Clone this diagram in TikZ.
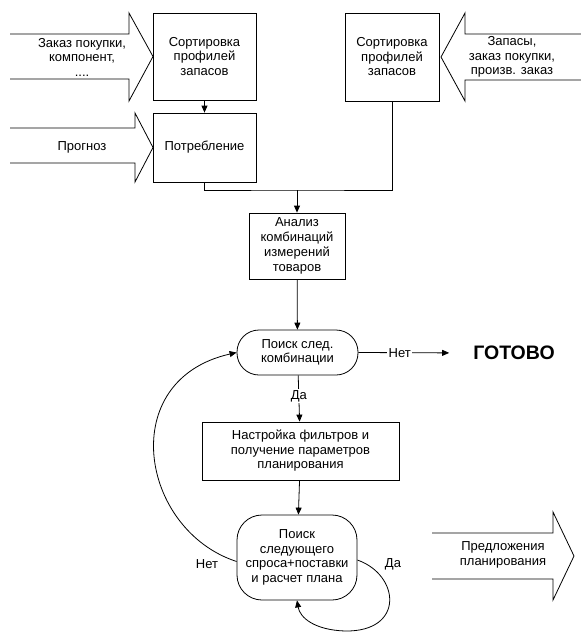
\documentclass[tikz,border=0pt]{standalone}
\usepackage{fontspec}
\setmainfont{Liberation Sans}
\usetikzlibrary{arrows.meta}
\begin{document}
\begin{tikzpicture}[x=1pt,y=-1pt,
  every node/.style={font=\fontsize{13}{14.5}\selectfont, align=center, inner sep=0pt},
  ln/.style={line width=0.8pt},
  arr/.style={ln, -{Triangle[length=7pt,width=6pt]}},
  box/.style={draw, ln, rectangle},
  term/.style={draw, ln, rectangle, rounded corners=#1},
  lbl/.style={fill=white, inner sep=1.5pt},
  bigarrow/.style={ln, line join=miter}
]
\useasboundingbox (0,0) rectangle (581,633);

% process boxes
\node[box, minimum width=103pt, minimum height=87pt] (sortl) at (204.5,56.5) {Сортировка\\профилей\\запасов};
\node[box, minimum width=103pt, minimum height=69pt] (potr) at (204.5,147.5) {Потребление};
\node[box, minimum width=94pt, minimum height=88pt] (sortr) at (392,57) {Сортировка\\профилей\\запасов};
\node[box, minimum width=96pt, minimum height=66pt, font=\fontsize{13}{15}\selectfont] (anal) at (297,246) {Анализ\\комбинаций\\измерений\\товаров};
\node[term=22pt, minimum width=121pt, minimum height=45pt] (t1) at (297.5,352.5) {Поиск след.\\комбинации};
\node[box, minimum width=197pt, minimum height=58pt] (filt) at (300.5,451) {Настройка фильтров и\\получение параметров\\планирования};
\node[term=25pt, minimum width=120pt, minimum height=85pt] (t2) at (297,557.5) {Поиск\\следующего\\спроса+поставки\\и расчет плана};
\node[font=\bfseries\fontsize{19.5}{21}\selectfont] (done) at (514,353) {ГОТОВО};

% input arrows
\draw[bigarrow] (10,34) -- (129,34) -- (129,13) -- (153,56.5) -- (129,101) -- (129,79) -- (10,79);
\node (in1) at (82,57) {Заказ покупки,\\компонент,\\....};
\draw[bigarrow] (10,128) -- (135,128) -- (135,113) -- (153,147.5) -- (135,182) -- (135,163) -- (10,163);
\node (in2) at (82,147) {Прогноз};
\draw[bigarrow] (581,34) -- (465,34) -- (465,13) -- (441,57) -- (465,101) -- (465,80) -- (581,80);
\node (in3) at (512,57) {Запасы,\\заказ покупки,\\произв. заказ};

% output arrow
\draw[bigarrow] (432,533) -- (553,533) -- (553,512) -- (574,556) -- (553,600) -- (553,579) -- (432,579);
\node (out) at (503,555) {Предложения\\планирования};

% connectors
\draw[arr] (sortl) -- (potr);
\coordinate (j) at (297,190);
\draw[ln] (potr.south) |- (j) -| (sortr.south);
\draw[arr] (j) -- (anal.north);
\draw[arr] (anal) -- (t1);
\draw[arr, shorten >=24pt] (t1.east) -- node[lbl, pos=0.36] {Нет} (done.west);
\draw[arr] (t1) -- node[lbl, pos=0.45] {Да} (filt);
\draw[arr] (filt) -- (t2);

% loops
\draw[arr] ([yshift=-4pt]t2.west) .. controls (140,530) and (115,380) .. (t1.west);
\node (no2) at (207,564) {Нет};
\draw[arr] ([yshift=-2.5pt]t2.east) .. controls (400,575) and (405,632) .. (345,631) .. controls (315,630) and (300,618) .. (t2.south);
\node (yes2) at (393,564) {Да};
\end{tikzpicture}
\end{document}
